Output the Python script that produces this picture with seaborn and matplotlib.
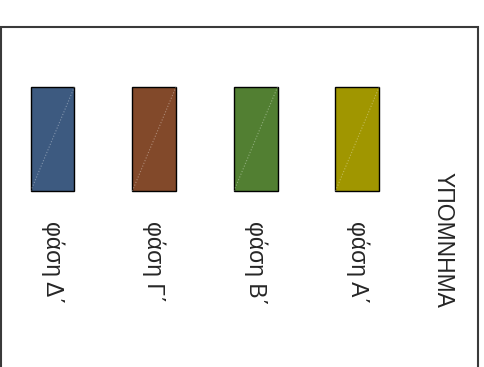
import matplotlib
matplotlib.use('Agg')
import matplotlib.pyplot as plt
import matplotlib.patches as mpatches
import seaborn as sn

PHASES = ['φάση Δ΄', 'φάση Γ΄', 'φάση Β΄', 'φάση Α΄']
SWATCH = [1, 1, 1, 1]
COLORS = ['#3d5a80', '#82492a', '#527f32', '#a09600']
TITLE = 'ΥΠΟΜΝΗΜΑ'


def main():
    sn.set_style('white')
    plt.rcParams['font.family'] = ['Liberation Sans', 'DejaVu Sans']

    fig = plt.figure(figsize=(4.85, 3.67), dpi=100)
    ax = fig.add_axes([0, 0, 1, 1])
    sn.barplot(x=PHASES, y=SWATCH, hue=PHASES, palette=COLORS, legend=False,
               width=0.43, edgecolor='black', linewidth=1, saturation=1, ax=ax)

    # thin light diagonal across each swatch
    for p in ax.patches:
        x0, y0 = p.get_x(), p.get_y()
        ax.plot([x0, x0 + p.get_width()], [y0, y0 + p.get_height()],
                color='white', alpha=0.35, lw=0.8, ls=':')

    for i, lab in enumerate(PHASES):
        ax.text(i, -0.29, lab, rotation=-90, ha='center', va='top', fontsize=16.5)
    ax.text(3.843, 0.18, TITLE, rotation=-90, ha='center', va='top', fontsize=16.5)

    ax.set_xlim(-0.517, 4.257)
    ax.set_ylim(-1.692, 1.837)
    ax.axis('off')

    frame = mpatches.Rectangle((0.5 / 485, -0.1), 477.5 / 485, 1.1 - 27 / 367,
                               transform=fig.transFigure, fill=False,
                               edgecolor='#3a3a3a', lw=1.5)
    fig.patches.append(frame)

    fig.savefig('out.png', dpi=100)


if __name__ == '__main__':
    main()
